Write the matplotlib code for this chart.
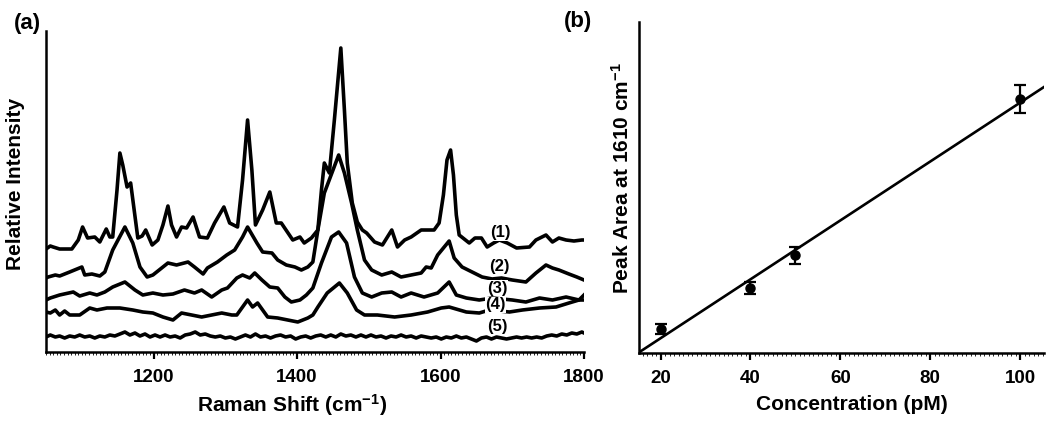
import numpy as np
import matplotlib
matplotlib.use("Agg")
import matplotlib.pyplot as plt
from matplotlib.ticker import MultipleLocator, NullLocator

plt.rcParams['font.family'] = ['Liberation Sans', 'DejaVu Sans']
plt.rcParams['font.weight'] = 'bold'
plt.rcParams['mathtext.fontset'] = 'custom'
plt.rcParams['mathtext.rm'] = 'Liberation Sans:bold'
plt.rcParams['mathtext.bf'] = 'Liberation Sans:bold'
plt.rcParams['mathtext.default'] = 'bf'

# ---------------- Panel (a): SERS spectra (stacked, arbitrary units) ----------------
wn1 = [1050, 1056, 1060, 1069, 1086, 1095, 1101, 1108, 1118, 1125, 1134, 1139, 1143, 1149, 1153, 1157,
       1163, 1168, 1172, 1178, 1184, 1189, 1198, 1206, 1213, 1220, 1225, 1232, 1239, 1246, 1255, 1264,
       1275, 1285, 1298, 1306, 1317, 1324, 1331, 1337, 1342, 1352, 1362, 1371, 1378, 1394, 1404, 1410,
       1420, 1429, 1434, 1438, 1445, 1452, 1461, 1466, 1470, 1477, 1484, 1491, 1497, 1508, 1519, 1532,
       1540, 1550, 1559, 1573, 1591, 1598, 1604, 1609, 1614, 1618, 1622, 1626, 1640, 1648, 1657, 1665,
       1674, 1682, 1693, 1706, 1724, 1733, 1747, 1756, 1765, 1775, 1786, 1797, 1800]
int1 = [103, 106, 105, 103, 103, 112, 125, 114, 115, 110, 123, 115, 115, 162, 199, 187,
        165, 169, 147, 114, 116, 122, 107, 112, 127, 146, 127, 115, 125, 124, 135, 115,
        114, 129, 145, 129, 125, 172, 232, 182, 127, 142, 160, 129, 129, 112, 115, 109,
        114, 122, 162, 189, 179, 232, 304, 242, 189, 149, 130, 122, 119, 110, 107, 122,
        105, 112, 115, 122, 122, 129, 157, 192, 202, 177, 137, 117, 109, 114, 114, 105,
        109, 112, 109, 104, 105, 112, 117, 110, 114, 112, 111, 112, 112]

wn2 = [1050, 1053, 1063, 1069, 1083, 1100, 1104, 1114, 1125, 1132, 1143, 1160, 1171, 1181, 1191, 1199,
       1213, 1220, 1232, 1248, 1257, 1269, 1275, 1289, 1302, 1313, 1324, 1331, 1344, 1352, 1365, 1373,
       1385, 1397, 1406, 1415, 1422, 1429, 1438, 1458, 1466, 1476, 1484, 1494, 1504, 1518, 1532, 1545,
       1559, 1573, 1580, 1587, 1596, 1612, 1619, 1630, 1644, 1658, 1672, 1685, 1700, 1719, 1733, 1747,
       1756, 1765, 1779, 1790, 1800]
int2 = [74, 75, 77, 76, 80, 85, 77, 78, 76, 80, 102, 125, 109, 85, 75, 77,
        85, 89, 87, 90, 85, 78, 84, 90, 97, 102, 115, 125, 109, 100, 99, 92,
        87, 85, 82, 85, 90, 122, 159, 197, 179, 149, 122, 92, 82, 77, 80, 75,
        77, 79, 85, 84, 97, 111, 94, 85, 80, 75, 73, 74, 72, 70, 79, 87,
        84, 82, 78, 75, 72]

wn3 = [1050, 1056, 1069, 1088, 1097, 1111, 1121, 1132, 1143, 1160, 1174, 1185, 1199, 1213, 1227, 1243,
       1257, 1267, 1281, 1295, 1303, 1316, 1324, 1334, 1341, 1351, 1362, 1373, 1383, 1392, 1404, 1413,
       1422, 1434, 1448, 1458, 1469, 1480, 1491, 1504, 1518, 1532, 1545, 1559, 1577, 1596, 1612, 1622,
       1636, 1654, 1672, 1700, 1719, 1738, 1756, 1775, 1793, 1800]
int3 = [52, 54, 57, 60, 56, 59, 57, 60, 65, 70, 62, 57, 59, 57, 58, 62,
        59, 62, 55, 62, 64, 74, 77, 74, 79, 72, 65, 64, 55, 50, 52, 57,
        64, 89, 115, 120, 109, 75, 59, 55, 59, 60, 55, 59, 55, 59, 70, 57,
        54, 52, 54, 52, 50, 54, 52, 55, 52, 52]

wn4 = [1050, 1056, 1063, 1069, 1076, 1083, 1097, 1111, 1121, 1135, 1153, 1171, 1185, 1199, 1213, 1227,
       1239, 1253, 1267, 1281, 1295, 1309, 1316, 1323, 1331, 1338, 1345, 1352, 1359, 1373, 1387, 1401,
       1415, 1422, 1429, 1442, 1459, 1470, 1483, 1494, 1512, 1536, 1559, 1582, 1601, 1612, 1636, 1654,
       1668, 1696, 1714, 1738, 1761, 1779, 1793, 1800]
int4 = [40, 39, 42, 37, 41, 37, 37, 44, 42, 44, 44, 42, 40, 39, 35, 32,
        39, 37, 35, 37, 39, 37, 37, 44, 52, 45, 49, 42, 35, 34, 32, 30,
        34, 37, 45, 59, 69, 59, 42, 37, 37, 35, 37, 40, 44, 45, 40, 39,
        42, 40, 42, 44, 45, 49, 52, 57]

wn5 = [1050, 1056, 1063, 1069, 1076, 1083, 1090, 1097, 1104, 1111, 1118, 1125, 1132, 1139, 1146, 1153,
       1160, 1167, 1174, 1181, 1188, 1195, 1202, 1209, 1216, 1223, 1230, 1237, 1244, 1251, 1258, 1265,
       1272, 1279, 1286, 1293, 1300, 1307, 1314, 1321, 1328, 1335, 1342, 1349, 1356, 1363, 1370, 1377,
       1384, 1391, 1398, 1405, 1412, 1419, 1426, 1433, 1440, 1447, 1454, 1461, 1468, 1475, 1482, 1489,
       1496, 1503, 1510, 1517, 1524, 1531, 1538, 1545, 1552, 1559, 1566, 1573, 1580, 1587, 1594, 1601,
       1608, 1615, 1622, 1629, 1636, 1643, 1650, 1657, 1664, 1671, 1678, 1685, 1692, 1699, 1706, 1713,
       1720, 1727, 1734, 1741, 1748, 1755, 1762, 1769, 1776, 1783, 1790, 1797, 1800]
int5 = [15, 17, 15, 16, 14, 16, 15, 17, 15, 16, 14, 16, 15, 17, 16, 18,
        20, 17, 19, 16, 18, 15, 17, 15, 17, 15, 16, 14, 17, 18, 20, 17,
        18, 16, 15, 16, 14, 15, 13, 15, 17, 15, 18, 15, 16, 14, 16, 17,
        15, 16, 13, 15, 16, 14, 16, 17, 15, 17, 15, 18, 16, 17, 15, 17,
        15, 17, 15, 16, 14, 16, 15, 17, 15, 16, 14, 16, 15, 14, 15, 13,
        15, 14, 16, 14, 15, 13, 11, 14, 15, 13, 15, 14, 13, 14, 15, 14,
        15, 14, 15, 14, 16, 17, 16, 18, 17, 19, 18, 20, 19]

spectra = [(wn1, int1), (wn2, int2), (wn3, int3), (wn4, int4), (wn5, int5)]
trace_labels = ['(1)', '(2)', '(3)', '(4)', '(5)']
label_x = [1683, 1682, 1679, 1677, 1679]
label_y = [119, 85, 64, 47, 25]
xticks_a = [1200, 1400, 1600, 1800]

# ---------------- Panel (b): calibration ----------------
conc = np.array([20, 40, 50, 100])
area = np.array([24.5, 65.0, 98.0, 254.5])
area_err = np.array([5.0, 6.0, 8.5, 14.0])
xticks_b = [20, 40, 60, 80, 100]

fig = plt.figure(figsize=(10.5, 4.25), dpi=100)
ax1 = fig.add_axes([46/1050, 73/425, 538/1050, 321/425])
ax2 = fig.add_axes([639/1050, 72/425, 405/1050, 331/425])

for wn, inten in spectra:
    ax1.plot(wn, inten, color='black', lw=2.6, solid_joinstyle='round')
for t, lx, ly in zip(trace_labels, label_x, label_y):
    ax1.text(lx, ly, t, ha='center', va='center', fontsize=12, fontweight='bold',
             bbox=dict(facecolor='white', edgecolor='none', pad=0.2))
ax1.set_xlim(1050, 1800)
ax1.set_ylim(0, 321)
ax1.set_xticks(xticks_a)
ax1.xaxis.set_minor_locator(MultipleLocator(5))
ax1.yaxis.set_major_locator(NullLocator())

coef = np.polyfit(conc, area, 1)
xl = np.array([14.0, 106.0])
ax2.plot(xl, np.polyval(coef, xl), color='black', lw=1.9)
ax2.errorbar(conc, area, yerr=area_err, fmt='o', color='black', ms=6.5,
             elinewidth=1.6, capsize=4.5, capthick=1.6)
ax2.set_xlim(15.2, 105.3)
ax2.set_ylim(0, 331)
ax2.set_xticks(xticks_b)
ax2.xaxis.set_minor_locator(MultipleLocator(1))
ax2.yaxis.set_major_locator(NullLocator())

for ax in (ax1, ax2):
    ax.spines['top'].set_visible(False)
    ax.spines['right'].set_visible(False)
    ax.spines['left'].set_linewidth(1.8)
    ax.spines['bottom'].set_linewidth(1.8)
    ax.tick_params(axis='x', which='major', direction='out', length=5, width=1.6,
                   labelsize=13.5, pad=7)
    ax.tick_params(axis='x', which='minor', direction='out', length=2.2, width=0.6)
    for lab in ax.get_xticklabels():
        lab.set_fontweight('bold')

fig.text(292/1050, 1 - 405/425, r'Raman Shift (cm$^{-1}$)', ha='center', va='center',
         fontsize=15, fontweight='bold')
fig.text(16/1050, 1 - 184/425, 'Relative Intensity', ha='center', va='center',
         rotation=90, fontsize=15, fontweight='bold')
fig.text(852/1050, 1 - 404/425, 'Concentration (pM)', ha='center', va='center',
         fontsize=15, fontweight='bold')
fig.text(622/1050, 1 - 178/425, r'Peak Area at 1610 cm$^{-1}$', ha='center', va='center',
         rotation=90, fontsize=15, fontweight='bold')
fig.text(27/1050, 1 - 23/425, '(a)', ha='center', va='center', fontsize=16, fontweight='bold')
fig.text(578/1050, 1 - 21/425, '(b)', ha='center', va='center', fontsize=16, fontweight='bold')

fig.savefig('out.png', dpi=100)
